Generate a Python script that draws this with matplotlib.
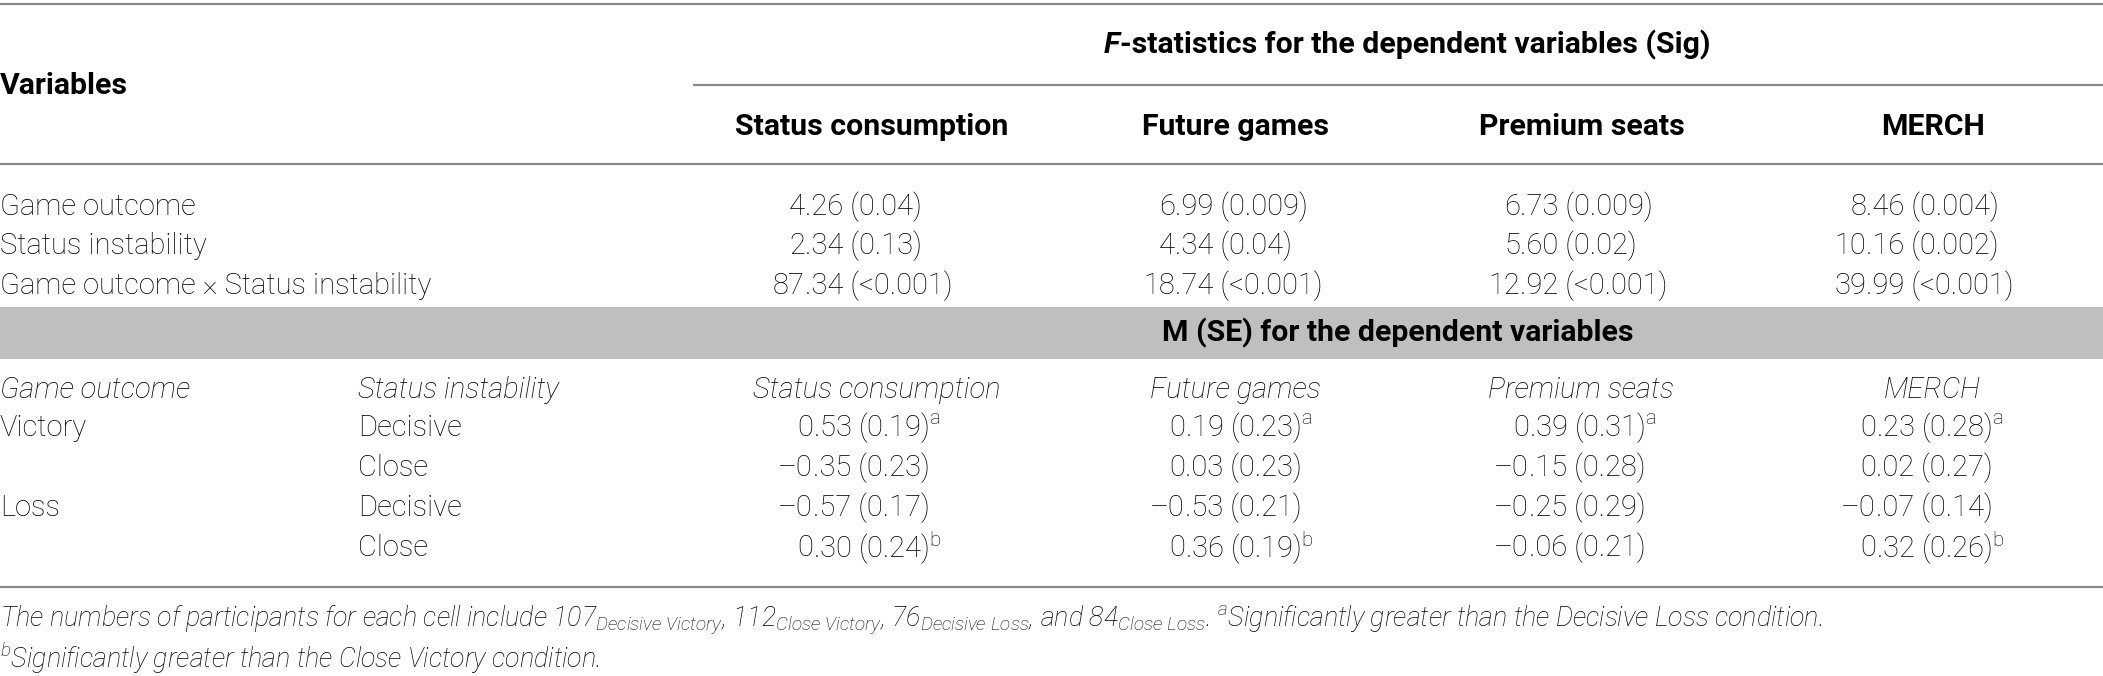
import matplotlib
matplotlib.use("Agg")
import matplotlib.pyplot as plt

# ---------------- data ----------------
variables = ["Game outcome", "Status instability", "Game outcome \u00d7 Status instability"]
dv_names = ["Status consumption", "Future games", "Premium seats", "MERCH"]
f_values = [[4.26, 6.99, 6.73, 8.46],
            [2.34, 4.34, 5.60, 10.16],
            [87.34, 18.74, 12.92, 39.99]]
f_sig = [["0.04", "0.009", "0.009", "0.004"],
         ["0.13", "0.04", "0.02", "0.002"],
         ["<0.001", "<0.001", "<0.001", "<0.001"]]
outcomes = ["Victory", "", "Loss", ""]
instability = ["Decisive", "Close", "Decisive", "Close"]
means = [[0.53, 0.19, 0.39, 0.23],
         [-0.35, 0.03, -0.15, 0.02],
         [-0.57, -0.53, -0.25, -0.07],
         [0.30, 0.36, -0.06, 0.32]]
ses = [[0.19, 0.23, 0.31, 0.28],
       [0.23, 0.23, 0.28, 0.27],
       [0.17, 0.21, 0.29, 0.14],
       [0.24, 0.19, 0.21, 0.26]]
sups = [["a", "a", "a", "a"],
        ["", "", "", ""],
        ["", "", "", ""],
        ["b", "b", "", "b"]]
header_top = "-statistics for the dependent variables (Sig)"
header_mid = "M (SE) for the dependent variables"
note_counts = ["107", "112", "76", "84"]
note_cells = ["Decisive Victory", "Close Victory", "Decisive Loss", "Close Loss"]
note_a = "Significantly greater than the Decisive Loss condition."
note_b = "Significantly greater than the Close Victory condition."

# ---------------- style ----------------
FAM = "Roboto"
plt.rcParams["font.family"] = [FAM, "DejaVu Sans"]
plt.rcParams["mathtext.fontset"] = "custom"
plt.rcParams["mathtext.rm"] = "Roboto:light"
plt.rcParams["mathtext.it"] = "Roboto:italic:light"
FS = 21
FB = 21.8
FN = 19.4
LINE = "#8a8a8a"
BAND = "#bebfc1"

W, H = 2103, 676
fig = plt.figure(figsize=(W / 100, H / 100), dpi=100)
ax = fig.add_axes([0, 0, 1, 1])
ax.set_xlim(0, W)
ax.set_ylim(H, 0)
ax.axis("off")

# rules and band
ax.hlines(4, 0, W, color=LINE, lw=1.6)
ax.hlines(85, 693, W, color=LINE, lw=1.6)
ax.hlines(164, 0, W, color=LINE, lw=1.6)
ax.axhspan(307, 359, color=BAND, lw=0)
ax.hlines(587, 0, W, color=LINE, lw=1.6)

# header
ax.text(0, 86, "Variables", fontsize=FB, fontweight="bold", va="center", ha="left")
ft = ax.text(1104, 45, "F", fontsize=FB, fontweight="bold", fontstyle="italic",
             va="center", ha="left")
ax.annotate(header_top, xy=(1, 0.5), xycoords=ft, fontsize=FB, fontweight="bold",
            va="center", ha="left")
col_centers = [872, 1236, 1582, 1933]
for cx, name in zip(col_centers, dv_names):
    ax.text(cx, 127, name, fontsize=FB, fontweight="bold", va="center", ha="center")

def fmt(v):
    s = f"{v:.2f}"
    return s.replace("-", "\u2013")

def dec_text(xdec, y, left, right):
    ax.text(xdec, y, left, fontsize=FS, fontweight="light", va="center", ha="right")
    ax.text(xdec, y, right, fontsize=FS, fontweight="light", va="center", ha="left")

# F-statistics section
rows1_y = [207, 246, 286]
dec1 = [805, 1175, 1520, 1866]
for r, (var, y) in enumerate(zip(variables, rows1_y)):
    ax.text(0, y, var, fontsize=FS, fontweight="light", va="center", ha="left")
    for c in range(4):
        s = fmt(f_values[r][c])
        ip, dp = s.split(".")
        dec_text(dec1[c], y, ip, "." + dp + " (" + f_sig[r][c] + ")")

# Means section
ax.text(1398, 333, header_mid, fontsize=FB, fontweight="bold", va="center", ha="center")
ax.text(0, 390, "Game outcome", fontsize=FS, fontweight="light", fontstyle="italic",
        va="center", ha="left")
ax.text(358, 390, "Status instability", fontsize=FS, fontweight="light",
        fontstyle="italic", va="center", ha="left")
for cx, name in zip([877, 1235, 1581, 1932], dv_names):
    ax.text(cx, 390, name, fontsize=FS, fontweight="light", fontstyle="italic",
            va="center", ha="center")
rows2_y = [428, 468, 508, 548]
dec2 = [813, 1185, 1529, 1876]
for r, y in enumerate(rows2_y):
    ax.text(0, y, outcomes[r], fontsize=FS, fontweight="light", va="center", ha="left")
    ax.text(358, y, instability[r], fontsize=FS, fontweight="light", va="center", ha="left")
    for c in range(4):
        s = fmt(means[r][c])
        ip, dp = s.split(".")
        rest = "." + dp + " (" + f"{ses[r][c]:.2f}" + ")"
        if sups[r][c]:
            rest += r"$^{\mathregular{" + sups[r][c] + "}}$"
        dec_text(dec2[c], y, ip, rest)

# footnotes
def sub(t):
    return r"$_{\mathit{" + t.replace(" ", r"\ ") + "}}$"

note1 = ("The numbers of participants for each cell include "
         + note_counts[0] + sub(note_cells[0]) + ", "
         + note_counts[1] + sub(note_cells[1]) + ", "
         + note_counts[2] + sub(note_cells[2]) + ", and "
         + note_counts[3] + sub(note_cells[3]) + ". "
         + r"$^{\mathit{a}}$" + note_a)
note2 = r"$^{\mathit{b}}$" + note_b
ax.text(0, 620, note1, fontsize=FN, fontweight="light", fontstyle="italic",
        va="center", ha="left")
ax.text(0, 658, note2, fontsize=FN, fontweight="light", fontstyle="italic",
        va="center", ha="left")

fig.savefig("out.png", dpi=100)
